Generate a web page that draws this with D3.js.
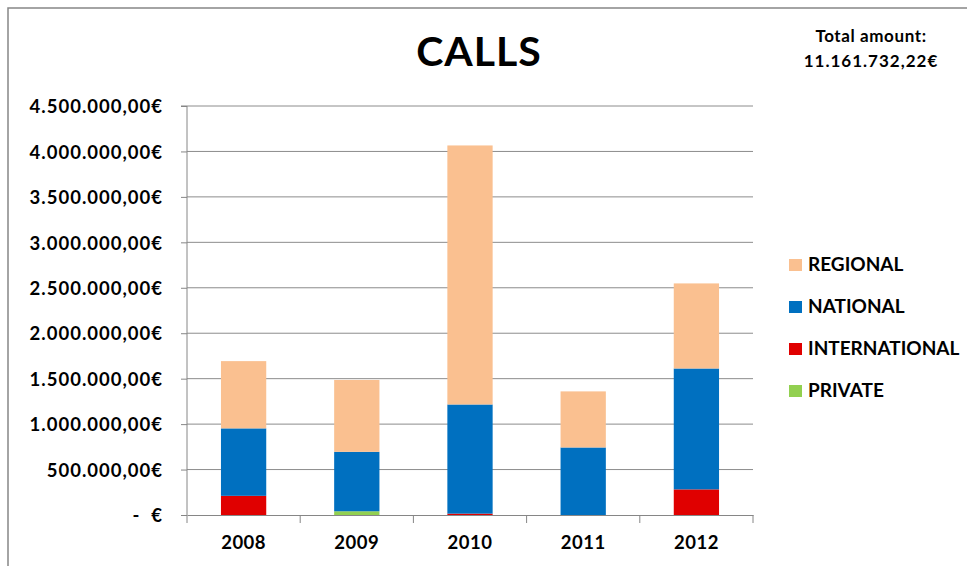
<!DOCTYPE html>
<html>
<head>
<meta charset="utf-8">
<script src="https://cdn.jsdelivr.net/npm/d3@7"></script>
<style>
  body { margin: 0; background: #fff; }
  text { font-family: Lato, "Open Sans", sans-serif; font-weight: bold; fill: #000; }
</style>
</head>
<body>
<script>
// data (euros)
const years = ["2008", "2009", "2010", "2011", "2012"];
const series = ["PRIVATE", "INTERNATIONAL", "NATIONAL", "REGIONAL"];
const privateVals = [0, 41000, 0, 0, 0];
const internationalVals = [211000, 0, 15000, 0, 282000];
const nationalVals = [742000, 654000, 1201000, 743000, 1330000];
const regionalVals = [740000, 791000, 2850000, 617000, 936000];
const yTicks = [0, 500000, 1000000, 1500000, 2000000, 2500000, 3000000, 3500000, 4000000, 4500000];
const colors = { PRIVATE: "#92d050", INTERNATIONAL: "#e00000", NATIONAL: "#0070c0", REGIONAL: "#fac090" };

const W = 967, H = 566;
const margin = { top: 106, right: 214, bottom: 51, left: 187 };
const width = W - margin.left - margin.right;
const height = H - margin.top - margin.bottom;

const rows = years.map((y, i) => ({
    year: y,
    PRIVATE: privateVals[i],
    INTERNATIONAL: internationalVals[i],
    NATIONAL: nationalVals[i],
    REGIONAL: regionalVals[i]
}));
const stacked = d3.stack().keys(series)(rows);

const svg = d3.select("body").append("svg")
    .attr("width", W)
    .attr("height", H);

// chart border
svg.append("path")
    .attr("d", "M8,570 L8,8 L970,8")
    .attr("fill", "none")
    .attr("stroke", "#868686")
    .attr("stroke-width", 1.5);

const g = svg.append("g")
    .attr("transform", "translate(" + margin.left + "," + margin.top + ")");

const x = d3.scaleBand()
    .domain(years)
    .range([0, width])
    .padding(0);

const y = d3.scaleLinear()
    .domain([0, 4500000])
    .range([height, 0]);

// gridlines
g.append("g")
    .selectAll("line")
    .data(yTicks.slice(1))
    .enter()
    .append("line")
    .attr("x1", 0)
    .attr("x2", width)
    .attr("y1", d => y(d))
    .attr("y2", d => y(d))
    .attr("stroke", "#8c8c8c")
    .attr("stroke-width", 1);

// bars
const barW = x.bandwidth() * 0.4;
g.append("g")
    .selectAll("g")
    .data(stacked)
    .enter()
    .append("g")
    .attr("fill", d => colors[d.key])
    .selectAll("rect")
    .data(d => d)
    .enter()
    .append("rect")
    .attr("x", d => x(d.data.year) + (x.bandwidth() - barW) / 2)
    .attr("y", d => y(d[1]))
    .attr("width", barW)
    .attr("height", d => y(d[0]) - y(d[1]));

// y axis
const fmt = d => d === 0 ? "-  €" : d3.format(",.2f")(d).replace(/,/g, "#").replace(".", ",").replace(/#/g, ".") + "€";
const yAxis = g.append("g")
    .call(d3.axisLeft(y).tickValues(yTicks).tickSize(6).tickPadding(18).tickFormat(fmt));
yAxis.select(".domain").attr("stroke", "#868686").attr("d", "M-6," + y(4500000) + "H0V" + height);
yAxis.selectAll(".tick line").attr("stroke", "#868686");
yAxis.selectAll(".tick text")
    .style("font-size", "18.5px")
    .style("letter-spacing", "1px")
    .style("white-space", "pre")
    .attr("dy", "0.36em");

// x axis
const xAxis = g.append("g")
    .attr("transform", "translate(0," + height + ")")
    .call(d3.axisBottom(x).tickSize(0).tickPadding(21));
xAxis.select(".domain").attr("stroke", "#868686");
xAxis.selectAll(".tick text").style("font-size", "18.5px").style("letter-spacing", "0.5px");
g.append("g")
    .attr("transform", "translate(0," + height + ")")
    .selectAll("line")
    .data(d3.range(years.length + 1))
    .enter()
    .append("line")
    .attr("x1", i => i * x.step())
    .attr("x2", i => i * x.step())
    .attr("y1", 0)
    .attr("y2", 8)
    .attr("stroke", "#868686");

// title
svg.append("text")
    .attr("x", 479)
    .attr("y", 66)
    .attr("text-anchor", "middle")
    .style("font-size", "41px")
    .style("letter-spacing", "1px")
    .text("CALLS");

svg.append("text")
    .attr("x", 871)
    .attr("y", 42)
    .attr("text-anchor", "middle")
    .style("font-size", "17px")
    .style("letter-spacing", "0.6px")
    .text("Total amount:");
svg.append("text")
    .attr("x", 871)
    .attr("y", 67)
    .attr("text-anchor", "middle")
    .style("font-size", "17px")
    .style("letter-spacing", "1px")
    .text("11.161.732,22€");

// legend
const legend = svg.append("g")
    .attr("transform", "translate(789,259)");
const items = legend.selectAll("g")
    .data(series.slice().reverse())
    .enter()
    .append("g")
    .attr("transform", (d, i) => "translate(0," + i * 42 + ")");
items.append("rect")
    .attr("width", 13)
    .attr("height", 12)
    .attr("fill", d => colors[d]);
items.append("text")
    .attr("x", 19)
    .attr("y", 12)
    .style("font-size", "19px")
    .text(d => d);
</script>
</body>
</html>
